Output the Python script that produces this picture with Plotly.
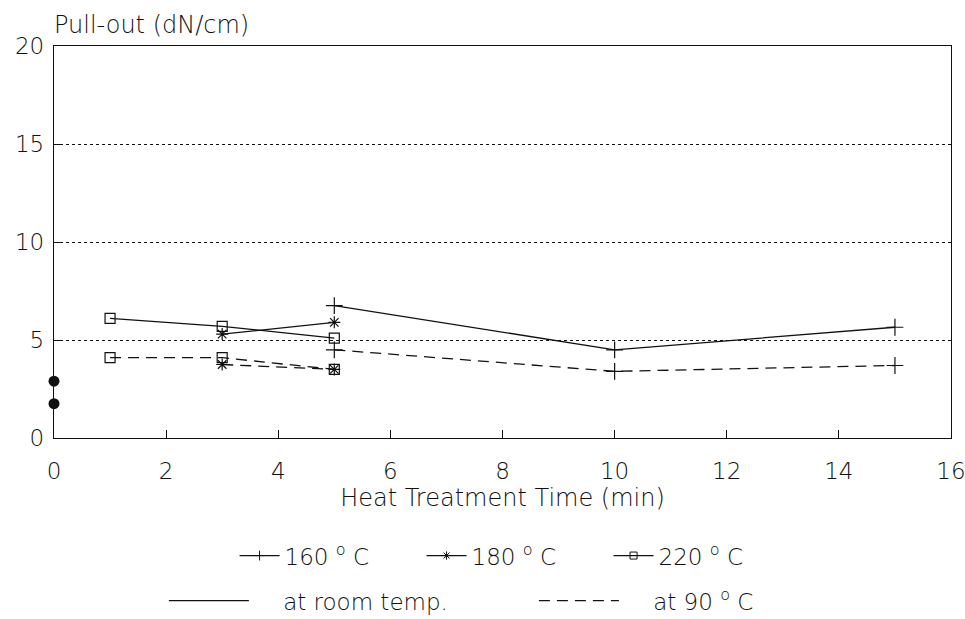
import plotly.graph_objects as go

# Data
times_160 = [5, 10, 15]
room_160 = [6.75, 4.5, 5.65]
hot_160 = [4.5, 3.4, 3.7]

times_180 = [3, 5]
room_180 = [5.3, 5.9]
hot_180 = [3.75, 3.5]

times_220 = [1, 3, 5]
room_220 = [6.1, 5.7, 5.1]
hot_220 = [4.1, 4.1, 3.5]

untreated_t = [0, 0]
untreated_v = [2.9, 1.75]

x_ticks = [0, 2, 4, 6, 8, 10, 12, 14, 16]
y_ticks = [0, 5, 10, 15, 20]

INK = "#111111"
FONT = "DejaVu Sans, sans-serif"
W = 200
DASH = "11px,7px"

series = [
    ("160", times_160, room_160, hot_160, "cross-thin-open", 12),
    ("180", times_180, room_180, hot_180, "asterisk-open", 10),
    ("220", times_220, room_220, hot_220, "square-open", 10),
]

fig = go.Figure()

for name, t, room, hot, sym, size in series:
    fig.add_trace(go.Scatter(
        x=t, y=room, mode="lines+markers", showlegend=False,
        line=dict(color=INK, width=1.3),
        marker=dict(symbol=sym, size=size, color=INK, line=dict(color=INK, width=1.2)),
        cliponaxis=False,
    ))
    fig.add_trace(go.Scatter(
        x=t, y=hot, mode="lines+markers", showlegend=False,
        line=dict(color=INK, width=1.3, dash=DASH),
        marker=dict(symbol=sym, size=size, color=INK, line=dict(color=INK, width=1.2)),
        cliponaxis=False,
    ))

fig.add_trace(go.Scatter(
    x=untreated_t, y=untreated_v, mode="markers", showlegend=False,
    marker=dict(symbol="circle", size=11, color=INK),
    cliponaxis=False,
))

# Legend entries (temperature)
for name, t, room, hot, sym, size in series:
    fig.add_trace(go.Scatter(
        x=[None], y=[None], mode="lines+markers",
        name=f"{name} <sup>o</sup> C", legend="legend",
        line=dict(color=INK, width=1.2),
        marker=dict(symbol=sym, size=7, color=INK, line=dict(color=INK, width=1)),
    ))

# Legend entries (test condition)
fig.add_trace(go.Scatter(
    x=[None], y=[None], mode="lines", name="&nbsp;&nbsp;&nbsp;&nbsp;at room temp.", legend="legend2",
    line=dict(color=INK, width=1.2),
))
fig.add_trace(go.Scatter(
    x=[None], y=[None], mode="lines", name="&nbsp;&nbsp;&nbsp;&nbsp;at 90 <sup>o</sup> C", legend="legend2",
    line=dict(color=INK, width=1.2, dash=DASH),
))

fig.update_layout(
    width=965, height=619,
    margin=dict(l=54, r=14, t=46, b=181, autoexpand=False),
    paper_bgcolor="white", plot_bgcolor="white",
    font=dict(family=FONT, size=22, color=INK, weight=W),
    legend=dict(
        orientation="h", x=0.514, xanchor="center", y=-0.30, yanchor="middle",
        font=dict(size=23, weight=W), itemwidth=40, entrywidth=132,
        bgcolor="rgba(0,0,0,0)",
    ),
    legend2=dict(
        orientation="h", x=0.535, xanchor="center", y=-0.415, yanchor="middle",
        font=dict(size=23, weight=W), itemwidth=80, entrywidth=275,
        bgcolor="rgba(0,0,0,0)",
    ),
    annotations=[dict(
        text="Pull-out (dN/cm)", xref="paper", yref="paper",
        x=-0.002, y=1.054, xanchor="left", yanchor="middle",
        showarrow=False, font=dict(size=24, family=FONT, color=INK, weight=W),
    )],
)

fig.update_xaxes(
    range=[0, 16], tickvals=x_ticks, ticktext=[str(v) for v in x_ticks],
    showline=True, linecolor=INK, linewidth=1.3, mirror=True,
    ticks="inside", ticklen=8, tickcolor=INK, tickwidth=1,
    showgrid=False, zeroline=False, automargin=False,
    ticklabeloverflow="allow",
    title=dict(text="Heat Treatment Time (min)", font=dict(size=24, weight=W), standoff=6),
    tickfont=dict(size=23, weight=W), ticklabelstandoff=12,
)
fig.update_yaxes(
    range=[0, 20], tickvals=y_ticks, ticktext=[str(v) for v in y_ticks],
    showline=True, linecolor=INK, linewidth=1.3, mirror=True,
    ticks="inside", ticklen=8, tickcolor=INK, tickwidth=1,
    showgrid=True, gridcolor=INK, gridwidth=1, griddash="dot",
    zeroline=False, automargin=False, ticklabeloverflow="allow",
    tickfont=dict(size=23, weight=W), ticklabelstandoff=4,
)

fig.write_html("out.html")
